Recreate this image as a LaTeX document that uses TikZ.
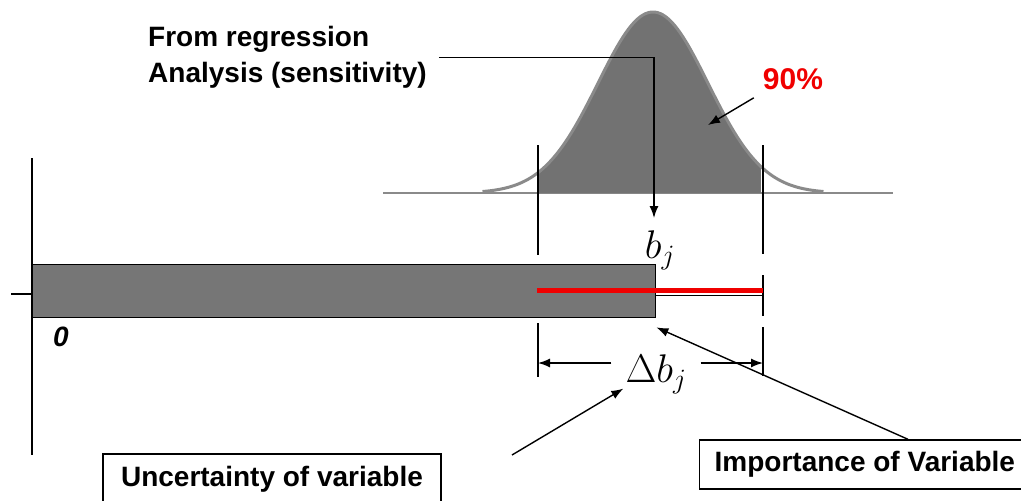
\RequirePackage{fix-cm}
\documentclass[tikz,border=0pt]{standalone}
\usepackage{fontspec}
\setmainfont{Liberation Sans}
\usetikzlibrary{arrows.meta,calc}
\definecolor{gfill}{HTML}{727272}
\definecolor{gline}{HTML}{8A8A8A}
\definecolor{bfill}{HTML}{767676}
\definecolor{pctred}{HTML}{F00000}
\tikzset{
  arr/.style={line width=1.4pt,-{Latex[length=12pt,width=9pt]}},
  guide/.style={line width=1.4pt,black},
  lbl/.style={font=\fontsize{28}{36}\selectfont\bfseries},
  mathlbl/.style={font=\fontsize{40}{40}\selectfont},
  boxlbl/.style={lbl,draw,line width=1.4pt,minimum height=50pt,inner xsep=15pt}
}
\begin{document}
\begin{tikzpicture}[x=1pt,y=-1pt]
\useasboundingbox (0,0) rectangle (1021,501);
\clip (0,0) rectangle (1021,501);
% gaussian
\draw[gline,line width=2pt] (383,193) -- (893,193);
\fill[gfill] plot[domain=-2.09:1.96,samples=80] ({653+55*\x},{193-181*exp(-0.5*\x*\x)}) -- (761,193) -- (538,193) -- cycle;
\draw[gline,line width=3pt] plot[domain=-3.1:3.1,samples=120] ({653+55*\x},{193-181*exp(-0.5*\x*\x)});
% guides
\draw[guide] (538,145) -- (538,255);
\draw[guide] (538,323) -- (538,377);
\draw[guide] (763,145) -- (763,254);
\draw[guide] (763,275) -- (763,316);
\draw[guide] (763,327) -- (763,376);
% axis
\draw[guide] (32,158) -- (32,455);
\draw[guide] (11,294) -- (32,294);
\node[draw,line width=1.4pt,fill=bfill,minimum width=623pt,minimum height=53pt,inner sep=0pt,anchor=north west] (bar) at (32,264) {};
\draw[line width=1.4pt] (655,295.5) -- (763,295.5);
\draw[pctred,line width=5pt] (537,290) -- (763,290);
\node[font=\fontsize{28}{28}\selectfont\bfseries\itshape] (zero) at (61,337) {0};
% labels
\node[lbl,align=left,anchor=north west,inner sep=0pt] (regtext) at (148,26) {From regression\\Analysis (sensitivity)};
\node[mathlbl,anchor=north,inner xsep=2pt,inner ysep=13pt] (bj) at (660,218) {$b_j$};
\node[mathlbl,anchor=base,inner xsep=14pt,inner ysep=0pt] (dbj) at (656,382) {$\Delta b_j$};
\node[font=\fontsize{30}{30}\selectfont\bfseries,text=pctred,inner sep=0pt] (pct) at (793,79) {90\%};
\node[boxlbl,minimum width=338pt] (unc) at (272,479) {Uncertainty of variable};
\node[boxlbl,anchor=west,minimum height=49pt] (imp) at (699,464.5) {Importance of Variable};
% connectors
\coordinate (regstart) at ([xshift=12pt]regtext.east);
\draw[arr] (regstart) -| ([xshift=-6pt]bj.north);
\coordinate (dimL) at (538,363);
\coordinate (dimR) at (763,363);
\draw[arr] (dimL -| dbj.west) -- (dimL);
\draw[arr] (dimR -| dbj.east) -- (dimR);
\coordinate (uncstart) at (512,455);
\draw[arr] (uncstart) -- ([shift={(12,-5)}]dbj.south west);
\draw[arr] ($(imp.north west)!0.63!(imp.north east)$) -- ([yshift=-9pt]bar.south east);
\coordinate (pcttip) at (708,125);
\draw[arr] ([shift={(-9,8)}]pct.south west) -- (pcttip);
\end{tikzpicture}
\end{document}
